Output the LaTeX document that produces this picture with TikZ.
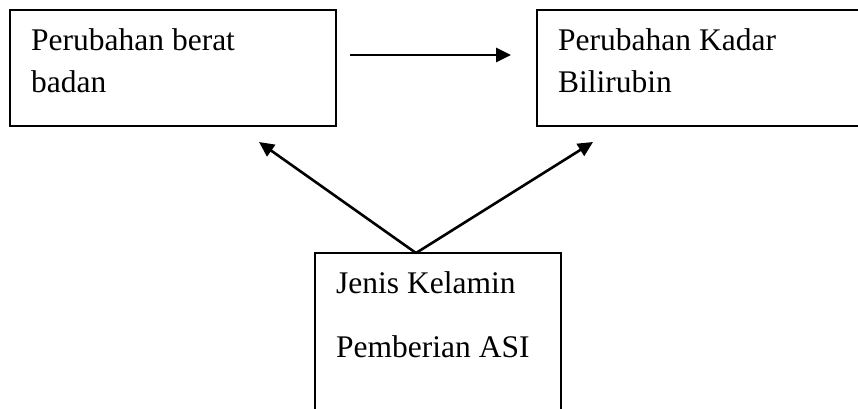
\documentclass[tikz,border=0pt]{standalone}
\usepackage{fontspec}
\setmainfont{Liberation Serif}
\usetikzlibrary{arrows.meta}
\begin{document}
\begin{tikzpicture}[x=1pt,y=-1pt,
  box/.style={draw=black,line width=2.2pt,rectangle,inner sep=0pt},
  lbl/.style={anchor=base west,inner sep=0pt,font=\fontsize{31.5}{42}\selectfont},
  conn/.style={line width=2.6pt,-{Triangle[length=15pt,width=14pt]}}]
\useasboundingbox (0,0) rectangle (858,408);
\clip (0,0) rectangle (858,408);
\fill[white] (0,0) rectangle (858,408);
\node[box,minimum width=326pt,minimum height=116pt] (left) at (173,68) {};
\node[box,minimum width=340pt,minimum height=116pt] (right) at (707,68) {};
\node[box,minimum width=246pt,minimum height=170pt] (bottom) at (438,338) {};
\node[lbl] (t1) at (31,50) {Perubahan berat};
\node[lbl] (t2) at (31,92) {badan};
\node[lbl] (t3) at (558,50) {Perubahan Kadar};
\node[lbl] (t4) at (558,92) {Bilirubin};
\node[lbl] (t5) at (336,293) {Jenis Kelamin};
\node[lbl] (t6) at (336,357) {Pemberian ASI};
\coordinate (hs) at (350,55);
\coordinate (he) at (511,55);
\coordinate (apex) at (416,253);
\coordinate (lt) at (259,142);
\coordinate (rt) at (593,142);
\draw[conn] (hs) -- (he);
\draw[conn] (apex) -- (lt);
\draw[conn] (apex) -- (rt);
\end{tikzpicture}
\end{document}
